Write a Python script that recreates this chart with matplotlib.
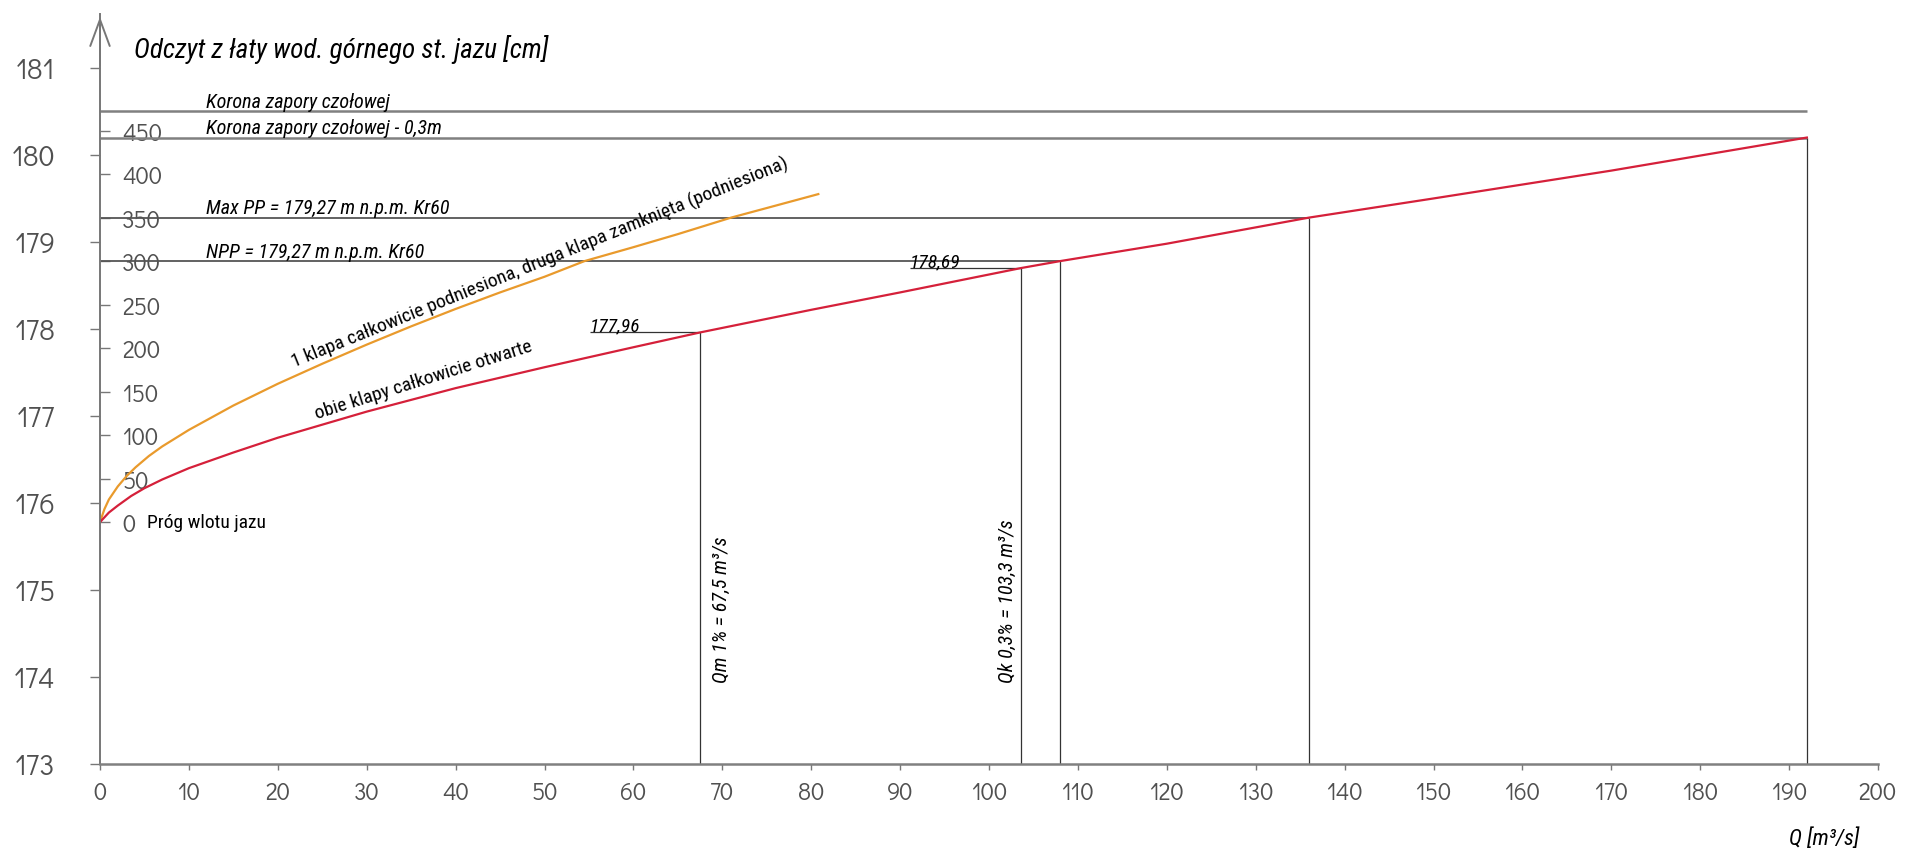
import matplotlib.pyplot as plt

# gauge zero (0 cm on the staff) in m n.p.m.
gauge_zero = 175.78

# rating curve: both flaps fully open
red_q = [0, 1, 2, 3.5, 5, 7, 10, 15, 20, 30, 40, 50, 60, 67.5, 80, 90, 103.6, 108, 120, 136, 150, 170, 192]
red_e = [175.78, 175.89, 175.97, 176.08, 176.17, 176.27, 176.40, 176.58, 176.75, 177.05, 177.32,
         177.56, 177.79, 177.96, 178.22, 178.42, 178.70, 178.78, 178.98, 179.28, 179.50, 179.82, 180.20]

# rating curve: one flap fully raised, second closed
orange_q = [0, 0.5, 1, 2, 3, 4, 5.5, 7, 10, 15, 20, 25, 30, 35, 40, 45, 50, 54.5, 60, 65, 71, 75, 80.8]
orange_e = [175.78, 175.93, 176.04, 176.19, 176.31, 176.41, 176.54, 176.65, 176.84, 177.12, 177.37,
            177.60, 177.82, 178.03, 178.23, 178.42, 178.60, 178.78, 178.94, 179.09, 179.28, 179.39, 179.55]

# characteristic levels: label, elevation, end of line (Q)
level_names = ["Korona zapory czołowej", "Korona zapory czołowej - 0,3m",
               "Max PP = 179,27 m n.p.m. Kr60", "NPP = 179,27 m n.p.m. Kr60"]
level_e = [180.50, 180.20, 179.28, 178.78]
level_end = [192, 192, 136, 108]

# vertical drop lines
drop_q = [67.5, 103.6, 108, 136, 192]
drop_e = [177.96, 178.70, 178.78, 179.28, 180.20]

# marked readings
mark_text = ["177,96", "178,69"]
mark_e = [177.96, 178.70]
mark_start = [55.1, 91.1]
mark_end = [67.5, 103.6]

x_ticks = list(range(0, 201, 10))
y_ticks = list(range(173, 182))
cm_ticks = list(range(0, 451, 50))

narrow = ['Roboto Condensed', 'DejaVu Sans']
nums = ['Didact Gothic', 'DejaVu Sans']
grey = '#505050'

fig = plt.figure(figsize=(19.05, 8.53), dpi=100)
ax = fig.add_axes([100 / 1905, 88 / 853, 1778 / 1905, 750 / 853])
ax.set_xlim(0, 200)
ax.set_ylim(173, 181.62)

for s in ['top', 'right']:
    ax.spines[s].set_visible(False)
ax.spines['left'].set_color('#777777')
ax.spines['left'].set_linewidth(1.4)
ax.spines['bottom'].set_color('#808080')
ax.spines['bottom'].set_linewidth(1.8)

ax.set_xticks(x_ticks)
ax.set_yticks(y_ticks)
ax.tick_params(axis='x', length=4, width=1, color='#777777', pad=8, labelsize=17, labelcolor=grey)
ax.tick_params(axis='y', length=7, width=1, color='#777777', pad=25, labelsize=20.5, labelcolor=grey)
for lab in ax.get_xticklabels() + ax.get_yticklabels():
    lab.set_family(nums)

# staff gauge scale [cm] on the inner side of the axis
sec = ax.secondary_yaxis(0.0, functions=(lambda e: (e - gauge_zero) * 100,
                                         lambda c: gauge_zero + c / 100))
sec.set_alignment('right')
for s in sec.spines.values():
    s.set_visible(False)
sec.set_yticks(cm_ticks)
sec.tick_params(length=7, width=1, color='#777777', pad=9, labelsize=17, labelcolor=grey)
for lab in sec.get_yticklabels():
    lab.set_family(nums)

# arrow on top of the axis
ax.annotate('', xy=(0, 181.62), xytext=(0, 181.0),
            arrowprops=dict(arrowstyle='->,head_length=1.9,head_width=0.7', color='#777777', lw=1.4),
            annotation_clip=False)

# level lines
ax.hlines(level_e[:2], 0, level_end[:2], colors='#808080', lw=1.8)
ax.hlines(level_e[2:], 0, level_end[2:], colors='#555555', lw=1.3)
for name, e in zip(level_names, level_e):
    ax.text(11.9, e + 0.05, name, family=narrow, style='italic', fontsize=14.5, va='baseline')

ax.vlines(drop_q, 173, drop_e, colors='#333333', lw=0.9)
ax.hlines(mark_e, mark_start, mark_end, colors='#333333', lw=0.9)
for t, e, q in zip(mark_text, mark_e, mark_start):
    ax.text(q, e + 0.02, t, family=narrow, style='italic', fontsize=14, va='baseline')

# curves
ax.plot(orange_q, orange_e, color='#e99a2c', lw=1.6)
ax.plot(red_q, red_e, color='#d5203a', lw=1.6)

ax.text(3.8, 181.13, "Odczyt z łaty wod. górnego st. jazu [cm]", family=narrow,
        style='italic', fontsize=19.5, va='baseline')
ax.text(5.3, gauge_zero, "Próg wlotu jazu", family=narrow, fontsize=14, va='center')

ax.text(21.9, 177.56, "1 klapa całkowicie podniesiona, druga klapa zamknięta (podniesiona)",
        family=narrow, fontsize=14, rotation=22, rotation_mode='anchor', ha='left', va='baseline')
ax.text(24.4, 176.97, "obie klapy całkowicie otwarte", family=narrow, fontsize=14,
        rotation=17.5, rotation_mode='anchor', ha='left', va='baseline')

ax.text(69.9, 173.94, "Qm 1% = 67,5 m³/s", family=narrow, style='italic', fontsize=14.5,
        rotation=90, rotation_mode='anchor', ha='left', va='center')
ax.text(102.1, 173.94, "Qk 0,3% = 103,3 m³/s", family=narrow, style='italic', fontsize=14.5,
        rotation=90, rotation_mode='anchor', ha='left', va='center')

ax.text(197.9, 172.15, "Q [m³/s]", family=narrow, style='italic', fontsize=16, ha='right', va='center')

fig.savefig('out.png', dpi=100)
